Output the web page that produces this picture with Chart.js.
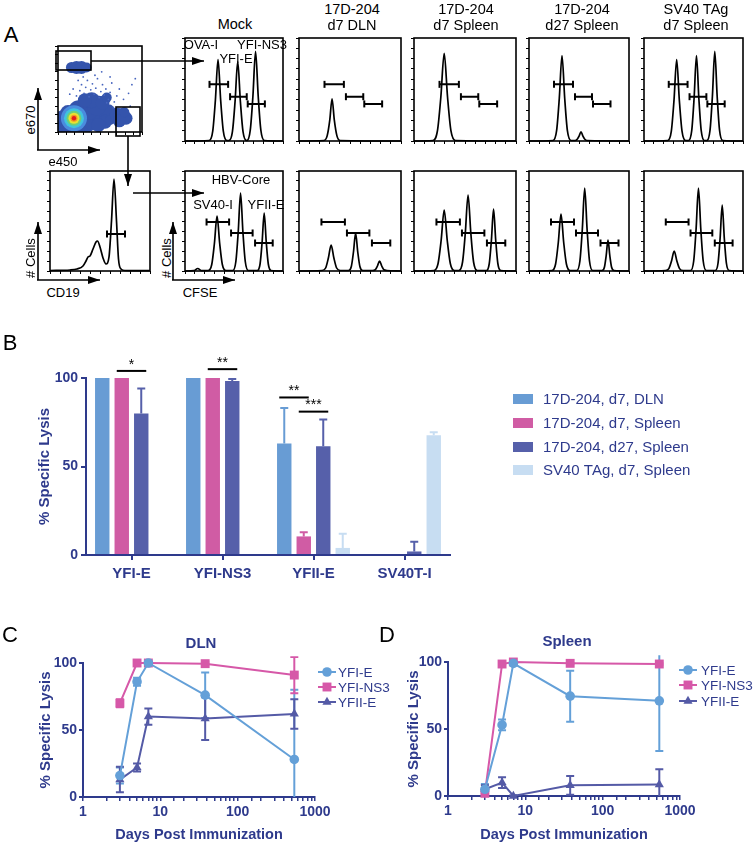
<!DOCTYPE html>
<html lang="en">
<head>
<meta charset="utf-8">
<title>Specific lysis</title>
<script src="https://cdn.jsdelivr.net/npm/chart.js@4.4.1/dist/chart.umd.min.js"></script>
<style>
  body { margin: 0; background: #fff; }
  #fig { position: relative; width: 754px; height: 845px; overflow: hidden; font-family: "Liberation Sans", Arial, Helvetica, sans-serif; }
  #fig canvas { position: absolute; }
  .t { position: absolute; white-space: nowrap; transform: translate(-50%, -50%); font-size: 14.5px; line-height: 1; color: #000; }
  .s { font-size: 13px; }
  .v { transform: translate(-50%, -50%) rotate(-90deg); }
  .big { font-size: 22px; }
  .hd { font-size: 15px; font-weight: bold; color: rgb(46,58,140); }
  #arrows { position: absolute; left: 0; top: 0; }
</style>
</head>
<body>
<div id="fig">
  <div class="t big" style="left:11px;top:35px">A</div>
  <div class="t big" style="left:10px;top:343px">B</div>
  <div class="t big" style="left:10px;top:635px">C</div>
  <div class="t big" style="left:387px;top:635px">D</div>

  <div class="t" style="left:235px;top:24px">Mock</div>
  <div class="t" style="left:352px;top:9px">17D-204</div>
  <div class="t" style="left:352px;top:25px">d7 DLN</div>
  <div class="t" style="left:466px;top:9px">17D-204</div>
  <div class="t" style="left:466px;top:25px">d7 Spleen</div>
  <div class="t" style="left:582px;top:9px">17D-204</div>
  <div class="t" style="left:582px;top:25px">d27 Spleen</div>
  <div class="t" style="left:696px;top:9px">SV40 TAg</div>
  <div class="t" style="left:696px;top:25px">d7 Spleen</div>

  <div class="t s" style="left:201px;top:44px">OVA-I</div>
  <div class="t s" style="left:262px;top:44px">YFI-NS3</div>
  <div class="t s" style="left:236px;top:58px">YFI-E</div>
  <div class="t s" style="left:241px;top:179px">HBV-Core</div>
  <div class="t s" style="left:213px;top:204px">SV40-I</div>
  <div class="t s" style="left:266px;top:204px">YFII-E</div>

  <div class="t s v" style="left:30px;top:120px">e670</div>
  <div class="t s" style="left:63px;top:161px">e450</div>
  <div class="t s v" style="left:30px;top:258px"># Cells</div>
  <div class="t s" style="left:63px;top:292px">CD19</div>
  <div class="t s v" style="left:166px;top:258px"># Cells</div>
  <div class="t s" style="left:200px;top:292px">CFSE</div>

  <div class="t hd" style="left:201px;top:642px">DLN</div>
  <div class="t hd" style="left:567px;top:640px">Spleen</div>

  <svg id="arrows" width="754" height="845">
    <defs>
      <marker id="ah" markerWidth="12" markerHeight="8" refX="12" refY="4" orient="auto" markerUnits="userSpaceOnUse">
        <path d="M0,0 L12,4 L0,8 z" fill="#000"/>
      </marker>
    </defs>
    <g stroke="#000" stroke-width="1.6" fill="none">
      <rect x="56" y="51" width="35" height="19"/>
      <rect x="116" y="107" width="24" height="29"/>
      <line x1="91" y1="61" x2="204" y2="61" marker-end="url(#ah)"/>
      <line x1="128" y1="136" x2="128" y2="186" marker-end="url(#ah)"/>
      <line x1="133" y1="193" x2="204" y2="193" marker-end="url(#ah)"/>
      <line x1="38" y1="150" x2="38" y2="88" marker-end="url(#ah)"/>
      <line x1="37" y1="150" x2="100" y2="150" marker-end="url(#ah)"/>
      <line x1="38" y1="280" x2="38" y2="222" marker-end="url(#ah)"/>
      <line x1="37" y1="280" x2="100" y2="280" marker-end="url(#ah)"/>
      <line x1="173" y1="280" x2="173" y2="222" marker-end="url(#ah)"/>
      <line x1="172" y1="280" x2="235" y2="280" marker-end="url(#ah)"/>
    </g>
  </svg>
</div>

<script>
// ---------- Panel A: flow data, [x, y] in % of each plot box ----------
const popMain = [[8,12,12],[18,13,14],[30,14,14],[42,16,12],[52,20,10],[60,24,7],[25,24,11],[36,27,11],[46,31,10],[40,37,8],[53,34,7],[12,22,8],[56,12,7],[32,37,7],[10,6,6],[48,8,7],[62,14,5],[58,40,5]];
const popTop = [[16,75,5.5],[22,75,6.5],[28,75,6.5],[34,75,5]];
const popRight = [[70,20,7],[76,18,8.5],[81,16,6.5],[73,13,6.5],[79,23,5]];
const hotCore = [[19,16,13],[19,16,10],[19,16,7.5],[19,16,5.5],[19,16,3.5],[19,16,2.2]];
const sparseEvents = [[22,42],[26,48],[28,55],[31,45],[33,52],[35,60],[37,41],[39,49],[41,56],[43,44],[45,51],[47,62],[49,40],[51,47],[53,55],[55,43],[57,50],[60,38],[62,46],[64,57],[67,35],[70,42],[73,50],[78,38],[84,45],[88,55],[92,62],[18,50],[24,60],[44,66],[58,34],[66,28],[86,30],[30,64],[52,70],[38,72],[62,64],[14,44]];

const cd19Trace = [[0,0.5],[20,1],[27,2],[33,5],[36,10],[38,14],[40,15],[43,22],[46,29],[47.5,30],[50,24],[53,13],[56,7],[59,14],[61.5,50],[64,92],[66.5,50],[68.5,12],[71,2],[75,0.5],[100,0.3]];
const cd19Gate = [[57,75,37]];

const topGates = [[25,44,55],[46,63,43],[64,81.5,36]];
const bottomGates = [[22,45,49],[47,69,38],[71.5,89.5,28]];

const mockTop = [[0,0],[24.7,0.5],[28.3,9.5],[31,39.5],[33.7,79],[36.4,39.5],[39.1,9.5],[42.7,0.5],[44.8,0.5],[48.4,9],[51.1,38.5],[53.8,77],[56.5,38.5],[59.2,9],[62.8,0.5],[63.2,0.5],[66.6,10.5],[69.3,43.5],[72,87],[74.7,43.5],[77.4,10.5],[81,0.5],[100,0]];
const dlnTop = [[0,0],[24.4,0.5],[27.6,5],[30.2,20.5],[32.4,41],[34.6,20.5],[37.2,5],[40.4,0.5],[100,0]];
const d7SplTop = [[0,0],[18.6,0.5],[23,10],[26.3,42.5],[29.6,85],[32.9,42.5],[36.2,10],[40.6,0.5],[100,0]];
const d27SplTop = [[0,0],[24,0.5],[27.6,10],[30.3,41.5],[33,83],[35.7,41.5],[38.4,10],[42,0.5],[46,0.5],[48.4,2],[50.2,5],[52,9],[53.8,5],[55.6,2],[58,0.5],[100,0]];
const sv40Top = [[0,0],[24,0.5],[27.6,9.5],[30.3,39.5],[33,79],[35.7,39.5],[38.4,9.5],[42,0.5],[45,0.5],[48.2,10],[50.6,41.5],[53,83],[55.4,41.5],[57.8,10],[61,0.5],[63.5,0.5],[66.7,10.5],[69.1,43.5],[71.5,87],[73.9,43.5],[76.3,10.5],[79.5,0.5],[100,0]];

const mockBottom = [[0,0],[9,0.3],[13,2.5],[17,0.3],[23.7,0.5],[27.3,6.5],[30,27.5],[32.7,55],[35.4,27.5],[38.1,6.5],[41.7,0.5],[48.7,0.5],[51.9,9.5],[54.3,39],[56.7,78],[59.1,39],[61.5,9.5],[64.7,0.5],[73.8,0.5],[76.6,7],[78.7,29],[80.8,58],[82.9,29],[85,7],[87.8,0.5],[100,0]];
const dlnBottom = [[0,0],[22.5,0.5],[26.1,3],[28.8,13],[31.5,26],[34.2,13],[36.9,3],[40.5,0.5],[48.5,0.5],[51.3,4.5],[53.4,19],[55.5,38],[57.6,19],[59.7,4.5],[62.5,0.5],[72,0.5],[74.8,1.2],[76.9,5],[79,10],[81.1,5],[83.2,1.2],[86,0.5],[100,0]];
const d7SplBottom = [[0,0],[19.6,0.5],[23.6,7.5],[26.6,30.5],[29.6,61],[32.6,30.5],[35.6,7.5],[39.6,0.5],[44,0.5],[47.6,9],[50.3,38],[53,76],[55.7,38],[58.4,9],[62,0.5],[71,0.5],[73.8,7.5],[75.9,31],[78,62],[80.1,31],[82.2,7.5],[85,0.5],[100,0]];
const d27SplBottom = [[0,0],[23,0.5],[26.6,7],[29.3,28.5],[32,57],[34.7,28.5],[37.4,7],[41,0.5],[47.7,0.5],[50.9,10],[53.3,41.5],[55.7,83],[58.1,41.5],[60.5,10],[63.7,0.5],[73,0.5],[75.4,3.7],[77.2,15.5],[79,31],[80.8,15.5],[82.6,3.7],[85,0.5],[100,0]];
const sv40Bottom = [[0,0],[21.5,0.5],[25.1,2.4],[27.8,10],[30.5,20],[33.2,10],[35.9,2.4],[39.5,0.5],[47,0.5],[50.2,10],[52.6,41.5],[55,83],[57.4,41.5],[59.8,10],[63,0.5],[72,0.5],[74.8,8],[76.9,33],[79,66],[81.1,33],[83.2,8],[86,0.5],[100,0]];

// ---------- Panel B ----------
const barCats = ['YFI-E', 'YFI-NS3', 'YFII-E', 'SV40T-I'];
const barNames = ['17D-204, d7, DLN', '17D-204, d7, Spleen', '17D-204, d27, Spleen', 'SV40 TAg, d7, Spleen'];
const dlnD7 = [100, 100, 63, 0];
const dlnD7Err = [0, 0, 20, 0];
const splD7 = [100, 100, 10.5, 0];
const splD7Err = [0, 0, 2.3, 0];
const splD27 = [80, 98.3, 61.5, 2];
const splD27Err = [14, 1.2, 15, 5.5];
const sv40D7 = [0, 0, 4, 67.6];
const sv40D7Err = [0, 0, 8, 1.7];
const sigText = ['*', '**', '**', '***'];
const sigCat = [0, 1, 2, 2];
const sigFrom = [1, 1, 0, 1];
const sigTo = [2, 2, 1, 2];
const sigLevel = [104, 105, 89, 81];

// ---------- Panels C and D ----------
const days = [3, 5, 7, 38, 540];
const peptides = ['YFI-E', 'YFI-NS3', 'YFII-E'];
const dlnYfiE = [16, 86, 100, 76, 28];
const dlnYfiEErr = [6, 3, 1, 17, 52];
const dlnYfiNs3 = [70, 100, 100, 99.5, 91];
const dlnYfiNs3Err = [3, 0.5, 0.5, 1, 13.5];
const dlnYfiiE = [13, 22, 60, 58.5, 62];
const dlnYfiiEErr = [9.5, 3, 6, 16, 11];
const splYfiE = [5, 53, 99, 74.5, 71];
const splYfiEErr = [4, 4, 1, 19, 37.5];
const splYfiNs3 = [2, 98.5, 100, 99, 98.5];
const splYfiNs3Err = [0, 0.5, 0.5, 0.5, 0.5];
const splYfiiE = [5, 10, 0, 8, 8.5];
const splYfiiEErr = [3, 4, 0.5, 7, 11.5];

// ---------- styling ----------
const NAVY = 'rgb(46,58,140)';
const BAR_COLORS = ['rgb(104,156,212)', 'rgb(208,92,164)', 'rgb(86,96,170)', 'rgb(199,221,242)'];
const LINE_COLORS = ['rgb(100,160,216)', 'rgb(214,88,168)', 'rgb(84,90,166)'];
const MARKERS = [['circle', 4.8], ['rect', 6.3], ['triangle', 5.3]];
const FONT = '"Liberation Sans", Arial, Helvetica, sans-serif';
Chart.defaults.font.family = FONT;

const fig = document.getElementById('fig');
function addCanvas(left, top, w, h) {
  const c = document.createElement('canvas');
  c.width = w; c.height = h;
  c.style.left = left + 'px'; c.style.top = top + 'px';
  c.style.width = w + 'px'; c.style.height = h + 'px';
  fig.insertBefore(c, fig.firstChild);
  return c.getContext('2d');
}

const frame = {
  id: 'frame',
  afterDraw(chart) {
    const { ctx, chartArea: a } = chart;
    ctx.save();
    ctx.strokeStyle = '#000';
    ctx.lineWidth = 1.6;
    ctx.strokeRect(a.left, a.top, a.right - a.left, a.bottom - a.top);
    ctx.restore();
  }
};

function boxScales() {
  const sc = (fit) => ({
    type: 'linear', min: 0, max: 100,
    afterFit: fit,
    ticks: { display: false, stepSize: 10 },
    grid: { drawOnChartArea: false, tickLength: 3, color: '#000', lineWidth: 1 },
    border: { display: false }
  });
  return { x: sc(s => { s.height = 4; }), y: sc(s => { s.width = 4; }) };
}
function boxOptions() {
  return {
    responsive: false, animation: false, devicePixelRatio: 1,
    layout: { padding: { top: 2, right: 2, left: 0, bottom: 0 } },
    plugins: { legend: { display: false }, tooltip: { enabled: false } },
    scales: boxScales()
  };
}

function histogram(box, trace, gates) {
  const ctx = addCanvas(box.left - 4, box.top - 2, box.w + 6, box.h + 6);
  const gateData = [];
  gates.forEach(g => { gateData.push({ x: g[0], y: g[2] }, { x: g[1], y: g[2] }, { x: g[1], y: null }); });
  new Chart(ctx, {
    type: 'line',
    data: { datasets: [
      { data: trace.map(p => ({ x: p[0], y: p[1] })), borderColor: '#000', borderWidth: 1.7,
        pointRadius: 0, cubicInterpolationMode: 'monotone', clip: false },
      { data: gateData, borderColor: '#000', borderWidth: 2, spanGaps: false, clip: false,
        pointStyle: 'line', rotation: 90, pointRadius: 3.5, pointBorderWidth: 2, pointBorderColor: '#000' }
    ] },
    options: boxOptions(),
    plugins: [frame]
  });
}

// density plot
(function () {
  const box = { left: 48, top: 34, w: 106, h: 108 };
  const ctx = addCanvas(box.left - 4, box.top - 2, box.w + 6, box.h + 6);
  const toB = arr => arr.map(p => ({ x: p[0], y: p[1], r: p[2] }));
  const hotColors = ['rgb(74,140,222)', 'rgb(64,196,222)', 'rgb(110,206,120)', 'rgb(232,226,50)', 'rgb(246,150,34)', 'rgb(226,28,28)'];
  const sets = hotCore.map((p, i) => ({ data: toB([p]), backgroundColor: hotColors[i], borderWidth: 0, clip: 0 })).reverse();
  sets.push(
    { data: toB(popTop), backgroundColor: 'rgb(52,84,172)', borderWidth: 0, clip: 0 },
    { data: toB(popRight), backgroundColor: 'rgb(52,84,172)', borderWidth: 0, clip: 0 },
    { data: sparseEvents.map(p => ({ x: p[0], y: p[1], r: 0.9 })), backgroundColor: 'rgb(70,100,190)', borderWidth: 0, clip: 0 },
    { data: toB(popMain), backgroundColor: 'rgb(52,84,172)', borderWidth: 0, clip: 0 }
  );
  new Chart(ctx, { type: 'bubble', data: { datasets: sets }, options: boxOptions(), plugins: [frame] });
})();

histogram({ left: 48, top: 167, w: 106, h: 106 }, cd19Trace, cd19Gate);

const colsX = [[183, 104], [297, 108], [412, 108], [527, 106], [642, 105]];
const topTraces = [mockTop, dlnTop, d7SplTop, d27SplTop, sv40Top];
const bottomTraces = [mockBottom, dlnBottom, d7SplBottom, d27SplBottom, sv40Bottom];
colsX.forEach((c, i) => {
  histogram({ left: c[0], top: 34, w: c[1], h: 109 }, topTraces[i], topGates);
  histogram({ left: c[0], top: 167, w: c[1], h: 106 }, bottomTraces[i], bottomGates);
});

// ---------- Panel B ----------
const barErrors = {
  id: 'barErrors',
  afterDatasetsDraw(chart) {
    const { ctx, scales: { y } } = chart;
    ctx.save();
    chart.data.datasets.forEach((ds, di) => {
      const meta = chart.getDatasetMeta(di);
      ctx.strokeStyle = ds.backgroundColor;
      ctx.lineWidth = 2;
      meta.data.forEach((bar, i) => {
        const e = ds.errors[i];
        if (!e) return;
        const top = y.getPixelForValue(ds.data[i] + e);
        ctx.beginPath();
        ctx.moveTo(bar.x, bar.y); ctx.lineTo(bar.x, top);
        ctx.moveTo(bar.x - 4, top); ctx.lineTo(bar.x + 4, top);
        ctx.stroke();
      });
    });
    ctx.restore();
  }
};
const significance = {
  id: 'significance',
  afterDraw(chart) {
    const { ctx, scales: { y } } = chart;
    ctx.save();
    ctx.strokeStyle = '#000'; ctx.fillStyle = '#000'; ctx.lineWidth = 2;
    ctx.font = '14px ' + FONT; ctx.textAlign = 'center'; ctx.textBaseline = 'middle';
    sigText.forEach((t, k) => {
      const a = chart.getDatasetMeta(sigFrom[k]).data[sigCat[k]];
      const b = chart.getDatasetMeta(sigTo[k]).data[sigCat[k]];
      const yy = y.getPixelForValue(sigLevel[k]);
      ctx.beginPath(); ctx.moveTo(a.x - 5, yy); ctx.lineTo(b.x + 5, yy); ctx.stroke();
      ctx.fillText(t, (a.x + b.x) / 2, yy - 6);
    });
    ctx.restore();
  }
};
const boxLegend = {
  id: 'boxLegend',
  afterDraw(chart, args, o) {
    const ctx = chart.ctx;
    ctx.save();
    ctx.font = '15px ' + FONT; ctx.textBaseline = 'middle'; ctx.fillStyle = NAVY;
    chart.data.datasets.forEach((ds, i) => {
      const yy = o.rows[i];
      ctx.fillStyle = ds.backgroundColor;
      ctx.fillRect(o.x, yy - 5, 20, 10);
      ctx.fillStyle = NAVY;
      ctx.fillText(ds.label, o.tx, yy + 1);
    });
    ctx.restore();
  }
};

(function () {
  const ctx = addCanvas(0, 330, 754, 270);
  const values = [dlnD7, splD7, splD27, sv40D7];
  const errs = [dlnD7Err, splD7Err, splD27Err, sv40D7Err];
  new Chart(ctx, {
    type: 'bar',
    data: {
      labels: barCats,
      datasets: barNames.map((n, i) => ({ label: n, data: values[i], errors: errs[i], backgroundColor: BAR_COLORS[i], borderWidth: 0 }))
    },
    options: {
      responsive: false, animation: false, devicePixelRatio: 1,
      layout: { padding: { top: 48, right: 304, left: 0, bottom: 0 } },
      datasets: { bar: { categoryPercentage: 0.857, barPercentage: 0.74 } },
      plugins: { legend: { display: false }, tooltip: { enabled: false },
        boxLegend: { x: 513, tx: 543, rows: [69, 93, 117, 140] } },
      scales: {
        x: {
          afterFit: s => { s.height = 45; },
          grid: { offset: false, drawOnChartArea: false, tickLength: 5, color: NAVY, lineWidth: 2 },
          border: { color: NAVY, width: 2 },
          ticks: { color: NAVY, font: { size: 15, weight: 'bold' }, padding: 5 }
        },
        y: {
          min: 0, max: 100,
          afterFit: s => { s.width = 86; },
          grid: { drawOnChartArea: false, tickLength: 5, color: NAVY, lineWidth: 2 },
          border: { color: NAVY, width: 2 },
          ticks: { stepSize: 50, color: NAVY, font: { size: 14, weight: 'bold' }, padding: 3 },
          title: { display: true, text: '% Specific Lysis', color: NAVY, font: { size: 15, weight: 'bold' }, padding: { top: 36, bottom: 0 } }
        }
      }
    },
    plugins: [barErrors, significance, boxLegend]
  });
})();

// ---------- Panels C and D ----------
function drawMarker(ctx, style, r, x, y) {
  ctx.beginPath();
  if (style === 'rect') {
    const s = r * Math.SQRT1_2;
    ctx.rect(x - s, y - s, 2 * s, 2 * s);
  } else if (style === 'triangle') {
    ctx.moveTo(x, y - r);
    ctx.lineTo(x + r * 0.866, y + r * 0.5);
    ctx.lineTo(x - r * 0.866, y + r * 0.5);
    ctx.closePath();
  } else {
    ctx.arc(x, y, r, 0, Math.PI * 2);
  }
  ctx.fill();
}
const lineErrors = {
  id: 'lineErrors',
  beforeDatasetsDraw(chart) {
    const { ctx, chartArea: a, scales: { y } } = chart;
    const clipTop = y.getPixelForValue(105);
    ctx.save();
    ctx.beginPath(); ctx.rect(a.left - 20, clipTop, a.right - a.left + 40, a.bottom - clipTop); ctx.clip();
    chart.data.datasets.forEach((ds, di) => {
      const meta = chart.getDatasetMeta(di);
      ctx.strokeStyle = ds.borderColor; ctx.lineWidth = 2;
      meta.data.forEach((pt, i) => {
        const e = ds.errors[i];
        if (!e) return;
        const v = ds.data[i].y;
        const top = y.getPixelForValue(v + e), bot = y.getPixelForValue(v - e);
        ctx.beginPath();
        ctx.moveTo(pt.x, top); ctx.lineTo(pt.x, bot);
        ctx.moveTo(pt.x - 4, top); ctx.lineTo(pt.x + 4, top);
        ctx.moveTo(pt.x - 4, bot); ctx.lineTo(pt.x + 4, bot);
        ctx.stroke();
      });
    });
    ctx.restore();
  }
};
const lineLegend = {
  id: 'lineLegend',
  afterDraw(chart, args, o) {
    const ctx = chart.ctx;
    ctx.save();
    ctx.font = '13.5px ' + FONT; ctx.textBaseline = 'middle';
    chart.data.datasets.forEach((ds, i) => {
      const yy = o.rows[i];
      ctx.strokeStyle = ds.borderColor; ctx.fillStyle = ds.borderColor; ctx.lineWidth = 2;
      ctx.beginPath(); ctx.moveTo(o.x0, yy); ctx.lineTo(o.x1, yy); ctx.stroke();
      drawMarker(ctx, ds.pointStyle, ds.pointRadius, (o.x0 + o.x1) / 2, yy);
      ctx.fillStyle = NAVY;
      ctx.fillText(ds.label, o.tx, yy + 1);
    });
    ctx.restore();
  }
};

function timeCourse(left, top, w, h, area, yTitlePad, series, errors, legend) {
  const ctx = addCanvas(left, top, w, h);
  const isDecade = v => Math.abs(Math.log10(v) - Math.round(Math.log10(v))) < 1e-9;
  new Chart(ctx, {
    type: 'line',
    data: {
      datasets: peptides.map((p, i) => ({
        label: p,
        data: days.map((d, k) => ({ x: d, y: series[i][k] })),
        errors: errors[i],
        borderColor: LINE_COLORS[i], backgroundColor: LINE_COLORS[i],
        pointBackgroundColor: LINE_COLORS[i], pointBorderColor: LINE_COLORS[i],
        pointStyle: MARKERS[i][0], pointRadius: MARKERS[i][1], pointBorderWidth: 0,
        borderWidth: 2, tension: 0, clip: false
      }))
    },
    options: {
      responsive: false, animation: false, devicePixelRatio: 1,
      layout: { padding: { top: area.top, right: w - area.right, left: 0, bottom: 0 } },
      plugins: { legend: { display: false }, tooltip: { enabled: false }, lineLegend: legend },
      scales: {
        x: {
          type: 'logarithmic', min: 1, max: 1000,
          afterFit: s => { s.height = h - area.bottom; },
          grid: { drawOnChartArea: false, tickLength: 4, color: NAVY, lineWidth: 1.5 },
          border: { color: NAVY, width: 2 },
          ticks: { autoSkip: false, maxRotation: 0, color: NAVY, font: { size: 14, weight: 'bold' }, padding: 3,
            callback: v => (isDecade(v) ? String(Math.round(v)) : '') },
          title: { display: true, text: 'Days Post Immunization', color: NAVY, font: { size: 14.5, weight: 'bold' }, padding: { top: 0, bottom: 1 } }
        },
        y: {
          min: 0, max: 100,
          afterFit: s => { s.width = area.left; },
          grid: { drawOnChartArea: false, tickLength: 4, color: NAVY, lineWidth: 2 },
          border: { color: NAVY, width: 2 },
          ticks: { stepSize: 50, color: NAVY, font: { size: 14, weight: 'bold' }, padding: 2 },
          title: { display: true, text: '% Specific Lysis', color: NAVY, font: { size: 15, weight: 'bold' }, padding: { top: yTitlePad, bottom: 0 } }
        }
      }
    },
    plugins: [lineErrors, lineLegend]
  });
}

timeCourse(375, 620, 379, 225, { left: 73, top: 42, right: 305, bottom: 176 }, 29.5,
  [splYfiE, splYfiNs3, splYfiiE], [splYfiEErr, splYfiNs3Err, splYfiiEErr],
  { x0: 304, x1: 322, tx: 326, rows: [50, 65, 81] });
timeCourse(0, 620, 395, 225, { left: 83, top: 43, right: 315, bottom: 177 }, 36.5,
  [dlnYfiE, dlnYfiNs3, dlnYfiiE], [dlnYfiEErr, dlnYfiNs3Err, dlnYfiiEErr],
  { x0: 318, x1: 336, tx: 338, rows: [52, 67, 82] });
</script>
</body>
</html>
